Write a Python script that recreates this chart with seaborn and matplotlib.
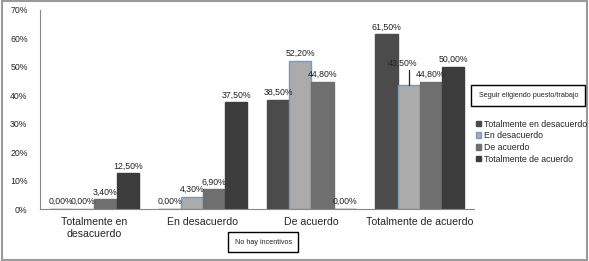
import pandas as pd
import seaborn as sns
import matplotlib.pyplot as plt
from matplotlib.patches import Rectangle, Patch

categories = ['Totalmente en\ndesacuerdo', 'En desacuerdo', 'De acuerdo', 'Totalmente de acuerdo']
series = ['Totalmente en desacuerdo', 'En desacuerdo', 'De acuerdo', 'Totalmente de acuerdo']
s1 = [0.0, 0.0, 38.5, 61.5]
s2 = [0.0, 4.3, 52.2, 43.5]
s3 = [3.4, 6.9, 44.8, 44.8]
s4 = [12.5, 37.5, 0.0, 50.0]

colors = ['#4b4b4b', '#ababab', '#6f6f6f', '#3c3c3c']
edges = ['#4b4b4b', '#7d99b8', '#6f6f6f', '#3c3c3c']

rows = []
for name, vals in zip(series, [s1, s2, s3, s4]):
    for cat, v in zip(categories, vals):
        rows.append({'cat': cat, 'serie': name, 'val': v})
df = pd.DataFrame(rows)

sns.set_style('white')
plt.rcParams['font.family'] = ['Liberation Sans', 'DejaVu Sans']

fig = plt.figure(figsize=(5.89, 2.61), dpi=100)
ax = fig.add_axes([0.068, 0.199, 0.737, 0.763])
sns.barplot(data=df, x='cat', y='val', hue='serie', palette=colors,
            width=0.82, ax=ax, legend=False, saturation=1)
xlim = ax.get_xlim()

for i, bars in enumerate(ax.containers):
    labels = []
    for j, b in enumerate(bars):
        b.set_edgecolor(edges[i])
        b.set_linewidth(1.0)
        txt = ('%.2f%%' % bars.datavalues[j]).replace('.', ',')
        if i == 1 and j == 3:
            # label lifted with a vertical leader line, as in the original
            x = b.get_x() + b.get_width() / 2
            h = b.get_height()
            ax.plot([x, x], [h, h + 5.5], color='#222222', lw=0.9)
            ax.text(x - 0.06, h + 6.3, txt, fontsize=6.3, ha='center', va='bottom',
                    color='#222222')
            labels.append('')
        else:
            labels.append(txt)
    ax.bar_label(bars, labels=labels, fontsize=6.3, padding=2, color='#222222')

ax.set_xlim(xlim)
ax.set_ylim(0, 70)
ax.set_yticks(range(0, 71, 10))
ax.set_yticklabels([f'{t}%' for t in range(0, 71, 10)], fontsize=6.3)
ax.tick_params(axis='x', labelsize=7.6, length=0, pad=6)
ax.tick_params(axis='y', length=0, pad=9)
ax.set_xlabel('')
ax.set_ylabel('')
for s in ['top', 'right']:
    ax.spines[s].set_visible(False)
for s in ['left', 'bottom']:
    ax.spines[s].set_color('#888888')
    ax.spines[s].set_linewidth(0.8)

handles = [Patch(facecolor=c, edgecolor=e) for c, e in zip(colors, edges)]
fig.legend(handles, series, loc='upper left', bbox_to_anchor=(0.802, 0.555),
           frameon=False, fontsize=6.3, handlelength=0.6, handleheight=0.6,
           handletextpad=0.3, labelspacing=0.3, borderaxespad=0)

fig.text(0.897, 0.635, 'Seguir eligiendo puesto/trabajo', fontsize=5.2, ha='center', va='center',
         bbox=dict(boxstyle='square,pad=1.0', facecolor='white', edgecolor='black', linewidth=1))
fig.text(0.447, 0.072, 'No hay incentivos', fontsize=5.2, ha='center', va='center',
         bbox=dict(boxstyle='square,pad=0.9', facecolor='white', edgecolor='black', linewidth=1))

fig.patches.append(Rectangle((0.003, 0.005), 0.994, 0.99, transform=fig.transFigure,
                             fill=False, edgecolor='#9a9a9a', linewidth=1.5))

fig.savefig('out.png', dpi=100)
